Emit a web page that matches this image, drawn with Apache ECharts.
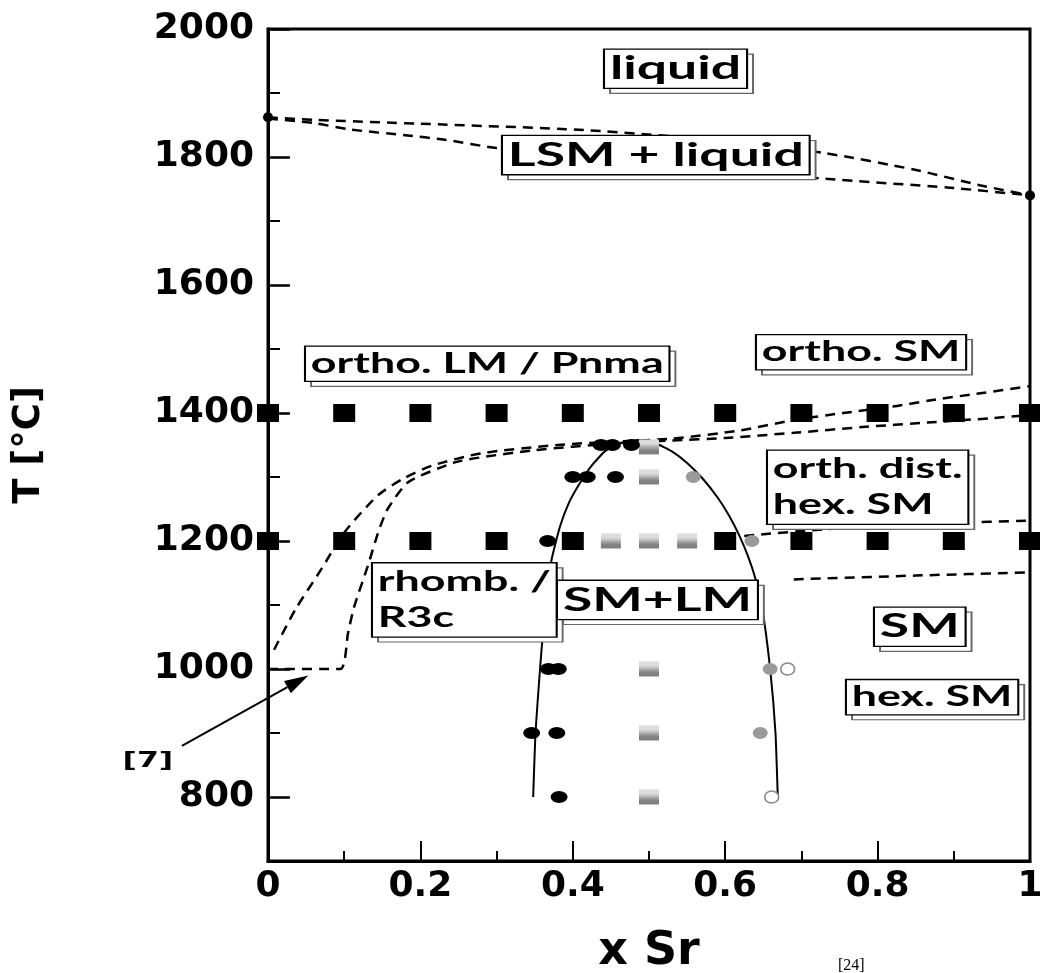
<!DOCTYPE html>
<html>
<head>
<meta charset="utf-8">
<title>La1-xSrxMnO3 phase diagram</title>
<script src="https://cdn.jsdelivr.net/npm/echarts@6/dist/echarts.min.js"></script>
<style>
  html, body { margin: 0; padding: 0; background: #fff; }
  #chart { width: 1040px; height: 973px; }
</style>
</head>
<body>
<div id="chart"></div>
<script>
// ---- axis ticks ----
const fractionTicks = [0, 0.2, 0.4, 0.6, 0.8, 1];
const fractionTickLabels = ['0', '0.2', '0.4', '0.6', '0.8', '1'];
const tempTicks = [800, 1000, 1200, 1400, 1600, 1800, 2000];
const tempMinorTicks = [900, 1100, 1300, 1500, 1700, 1900];

// ---- measured samples [x Sr, T °C] ----
// orthorhombic single phase (black squares)
const orthoSquares = [
  [0, 1400], [0.1, 1400], [0.2, 1400], [0.3, 1400], [0.4, 1400], [0.5, 1400],
  [0.6, 1400], [0.7, 1400], [0.8, 1400], [0.9, 1400], [1, 1400],
  [0, 1200], [0.1, 1200], [0.2, 1200], [0.3, 1200], [0.4, 1200],
  [0.6, 1200], [0.7, 1200], [0.8, 1200], [0.9, 1200], [1, 1200]
];
// two-phase samples (hatched squares)
const mixedSquares = [
  [0.45, 1200], [0.5, 1200], [0.55, 1200], [0.5, 1347], [0.5, 1300],
  [0.5, 1000], [0.5, 900], [0.5, 800]
];
// LM-rich boundary (black dots)
const lmDots = [
  [0.437, 1350], [0.452, 1350], [0.477, 1350],
  [0.40, 1300], [0.419, 1300], [0.456, 1300],
  [0.367, 1200],
  [0.368, 1000], [0.381, 1000],
  [0.346, 900], [0.379, 900],
  [0.382, 800]
];
// SM-rich boundary (grey dots)
const smDots = [[0.558, 1300], [0.635, 1200], [0.659, 1000], [0.646, 900]];
// SM-rich boundary (open dots)
const openDots = [[0.682, 1000], [0.661, 800]];
// melting points of the end members
const meltPoints = [[0, 1862], [1, 1740]];

// ---- phase boundaries ----
const liquidusUpper = [
  [0, 1862], [0.06, 1858], [0.2, 1852], [0.416, 1842], [0.6, 1825],
  [0.731, 1806], [0.849, 1780], [0.934, 1756], [1, 1740]
];
const liquidusLower = [
  [0, 1860], [0.06, 1853], [0.108, 1843], [0.18, 1834], [0.232, 1827],
  [0.3, 1814], [0.5, 1790], [0.731, 1766], [0.895, 1752], [1, 1740]
];
const miscibilityGap = [
  [0.348, 800], [0.351, 900], [0.357, 1000], [0.364, 1100], [0.372, 1170],
  [0.383, 1222], [0.395, 1260], [0.409, 1290], [0.425, 1318], [0.442, 1340],
  [0.462, 1353], [0.486, 1358], [0.51, 1352], [0.53, 1340], [0.55, 1322],
  [0.57, 1298], [0.59, 1268], [0.605, 1240], [0.618, 1210], [0.63, 1176],
  [0.64, 1140], [0.648, 1100], [0.659, 1000], [0.666, 900], [0.669, 800]
];
const transitionOuter = [
  [0.008, 1030], [0.036, 1093], [0.07, 1156], [0.10, 1213], [0.144, 1271],
  [0.177, 1297], [0.216, 1318], [0.28, 1337], [0.38, 1350], [0.45, 1355],
  [0.53, 1360], [0.62, 1373], [0.69, 1389], [0.755, 1400], [0.82, 1410],
  [0.87, 1420], [0.93, 1430], [1, 1442]
];
const transitionInner = [
  [0, 1000], [0.095, 1000], [0.105, 1056], [0.113, 1097], [0.131, 1161],
  [0.145, 1215], [0.157, 1250], [0.184, 1292], [0.249, 1324], [0.35, 1342],
  [0.45, 1352], [0.53, 1357], [0.6, 1361], [0.69, 1369], [0.78, 1378],
  [0.865, 1385], [0.95, 1392], [1, 1397]
];
const hexBoundaryUpper = [[0.625, 1208], [0.75, 1220], [0.9, 1228], [1, 1232]];
const hexBoundaryLower = [[0.69, 1140], [0.85, 1146], [1, 1151]];

// ---- region labels (anchored at the left edge, vertical middle of each box) ----
const regionLabels = ['liquid', 'LSM + liquid', 'ortho. LM / Pnma', 'ortho. SM',
  'orth. dist.\nhex. SM', 'rhomb. /\nR3c', 'SM+LM', 'SM', 'hex. SM'];
const regionLabelX = [0.4423, 0.3084, 0.0499, 0.6417, 0.6562, 0.1378, 0.3806, 0.7966, 0.7598];
const regionLabelT = [1938, 1803, 1477, 1495, 1284, 1108, 1108, 1066, 956];

// ---- literature reference arrow [x0, T0, x1, T1] ----
const refArrow = [[-0.113, 880, 0.053, 990]];
const refArrowLabel = '[7]';

const pairsToData = arr => arr.map(p => [p[0], p[1]]);
const largeLabels = new Set(['liquid', 'LSM + liquid', 'SM+LM', 'SM']);

const axisFont = { fontFamily: 'DejaVu Sans', fontWeight: 'bold', color: '#000' };
const dashed = { color: '#000', width: 2.5, type: [10, 7] };

// horizontal hatching used for the two-phase squares
function hatchPattern() {
  const c = document.createElement('canvas');
  c.width = 4; c.height = 4;
  const g = c.getContext('2d');
  g.fillStyle = '#dcdcdc'; g.fillRect(0, 0, 4, 4);
  g.fillStyle = '#808080'; g.fillRect(0, 0, 4, 2);
  return { image: c, repeat: 'repeat' };
}

function boundary(data, style, smooth) {
  return {
    type: 'line', data: pairsToData(data), showSymbol: false, symbol: 'none',
    smooth: smooth, lineStyle: style, z: 2, silent: true, clip: false
  };
}

function renderRegionLabel(params, api) {
  const p = api.coord([api.value(0), api.value(1)]);
  const text = regionLabels[params.dataIndex];
  const big = largeLabels.has(text);
  const font = 'bold ' + (big ? 33 : 28) + 'px Lato';
  const sx = big ? 1.62 : 1.6;
  const lh = big ? 37 : 33;
  const base = {
    text: text, align: 'left', verticalAlign: 'middle', font: font,
    lineHeight: text.indexOf('\n') >= 0 ? 36 : lh, padding: [1, 3, 0, 3]
  };
  return {
    type: 'group',
    children: [
      {
        type: 'text', x: p[0] + 6, y: p[1] + 5, scaleX: sx,
        style: Object.assign({}, base, {
          fill: 'rgba(0,0,0,0)', backgroundColor: '#fff',
          borderColor: '#666', borderWidth: 1.2
        })
      },
      {
        type: 'text', x: p[0], y: p[1], scaleX: sx,
        style: Object.assign({}, base, {
          fill: '#000', backgroundColor: '#fff',
          borderColor: '#000', borderWidth: 1.3
        })
      }
    ]
  };
}

function renderArrow(params, api) {
  const a = api.coord([api.value(0), api.value(1)]);
  const b = api.coord([api.value(2), api.value(3)]);
  const ang = Math.atan2(b[1] - a[1], b[0] - a[0]);
  const L = 24, W = 7;
  const base = [b[0] - L * Math.cos(ang), b[1] - L * Math.sin(ang)];
  const nx = -Math.sin(ang), ny = Math.cos(ang);
  return {
    type: 'group',
    children: [
      { type: 'line', shape: { x1: a[0], y1: a[1], x2: base[0], y2: base[1] },
        style: { stroke: '#000', lineWidth: 2 } },
      { type: 'polygon',
        shape: { points: [[b[0], b[1]], [base[0] + nx * W, base[1] + ny * W], [base[0] - nx * W, base[1] - ny * W]] },
        style: { fill: '#000' } },
      { type: 'text', x: a[0] - 34, y: a[1] + 16, scaleX: 1.5,
        style: { text: refArrowLabel, font: 'bold 21px "DejaVu Sans"', fill: '#000',
                 align: 'center', verticalAlign: 'middle' } }
    ]
  };
}

const chart = echarts.init(document.getElementById('chart'), null, { renderer: 'canvas' });

const solidMark = { opacity: 1 };

chart.setOption({
  animation: false,
  backgroundColor: '#fff',
  grid: {
    left: 268, right: 10, top: 29, bottom: 112, outerBoundsMode: 'none', containLabel: false,
    show: true, borderColor: '#000', borderWidth: 3, backgroundColor: 'transparent'
  },
  xAxis: {
    type: 'value', min: 0, max: 1, interval: 0.2,
    axisLine: { show: true, onZero: false, lineStyle: { color: '#000', width: 3 } },
    axisTick: { show: true, inside: true, length: 20, lineStyle: { color: '#000', width: 2 } },
    minorTick: { show: true, splitNumber: 2, length: 10, lineStyle: { color: '#000', width: 2 } },
    axisLabel: Object.assign({
      fontSize: 36, margin: 8,
      formatter: v => {
        const i = fractionTicks.findIndex(t => Math.abs(t - v) < 1e-6);
        return i >= 0 ? fractionTickLabels[i] : '';
      }
    }, axisFont),
    splitLine: { show: false },
    name: 'x Sr', nameLocation: 'middle', nameGap: 68,
    nameTextStyle: Object.assign({ fontSize: 46 }, axisFont)
  },
  yAxis: [
    {
      type: 'value', min: 700, max: 2000,
      axisLine: { show: true, onZero: false, lineStyle: { color: '#000', width: 3 } },
      axisTick: { show: true, inside: true, length: 22, customValues: tempTicks, lineStyle: { color: '#000', width: 2.5 } },
      axisLabel: Object.assign({ fontSize: 36, margin: 14, customValues: tempTicks, formatter: v => String(v) }, axisFont),
      splitLine: { show: false },
      name: 'T [°C]', nameLocation: 'middle', nameRotate: 90, nameGap: 220,
      nameTextStyle: Object.assign({ fontSize: 37 }, axisFont)
    },
    {
      type: 'value', min: 700, max: 2000, position: 'left',
      axisLine: { show: false },
      axisTick: { show: true, inside: true, length: 12, customValues: tempMinorTicks, lineStyle: { color: '#000', width: 2 } },
      axisLabel: { show: false, customValues: tempMinorTicks },
      splitLine: { show: false }
    }
  ],
  graphic: [
    { type: 'text', left: 838, top: 958,
      style: { text: '[24]', font: '16px "Liberation Serif"', fill: '#000' } }
  ],
  series: [
    boundary(liquidusUpper, dashed, 0.25),
    boundary(liquidusLower, dashed, 0.25),
    boundary(transitionOuter, dashed, 0.25),
    boundary(transitionInner, dashed, 0.2),
    boundary(hexBoundaryUpper, dashed, 0.25),
    boundary(hexBoundaryLower, dashed, 0.25),
    boundary(miscibilityGap, { color: '#000', width: 2 }, 0.15),
    {
      type: 'scatter', data: pairsToData(orthoSquares), symbol: 'rect', symbolSize: [22, 18],
      itemStyle: Object.assign({ color: '#000' }, solidMark), z: 4, clip: false, silent: true
    },
    {
      type: 'scatter', data: pairsToData(mixedSquares), symbol: 'rect', symbolSize: [20, 15],
      itemStyle: Object.assign({ color: hatchPattern() }, solidMark), z: 4, clip: false, silent: true
    },
    {
      type: 'scatter', data: pairsToData(lmDots), symbol: 'circle', symbolSize: [17, 12],
      itemStyle: Object.assign({ color: '#000' }, solidMark), z: 5, clip: false, silent: true
    },
    {
      type: 'scatter', data: pairsToData(smDots), symbol: 'circle', symbolSize: [15, 12],
      itemStyle: Object.assign({ color: '#9a9a9a' }, solidMark), z: 5, clip: false, silent: true
    },
    {
      type: 'scatter', data: pairsToData(openDots), symbol: 'circle', symbolSize: [14, 12],
      itemStyle: Object.assign({ color: '#fff', borderColor: '#888', borderWidth: 1.5 }, solidMark), z: 5, clip: false, silent: true
    },
    {
      type: 'scatter', data: pairsToData(meltPoints), symbol: 'circle', symbolSize: 10,
      itemStyle: Object.assign({ color: '#000' }, solidMark), z: 5, clip: false, silent: true
    },
    {
      type: 'custom', data: regionLabelX.map((x, i) => [x, regionLabelT[i]]),
      renderItem: renderRegionLabel, z: 10, clip: false, silent: true
    },
    {
      type: 'custom', data: refArrow, encode: { x: [0, 2], y: [1, 3] },
      renderItem: renderArrow, z: 10, clip: false, silent: true
    }
  ]
});
</script>
</body>
</html>
